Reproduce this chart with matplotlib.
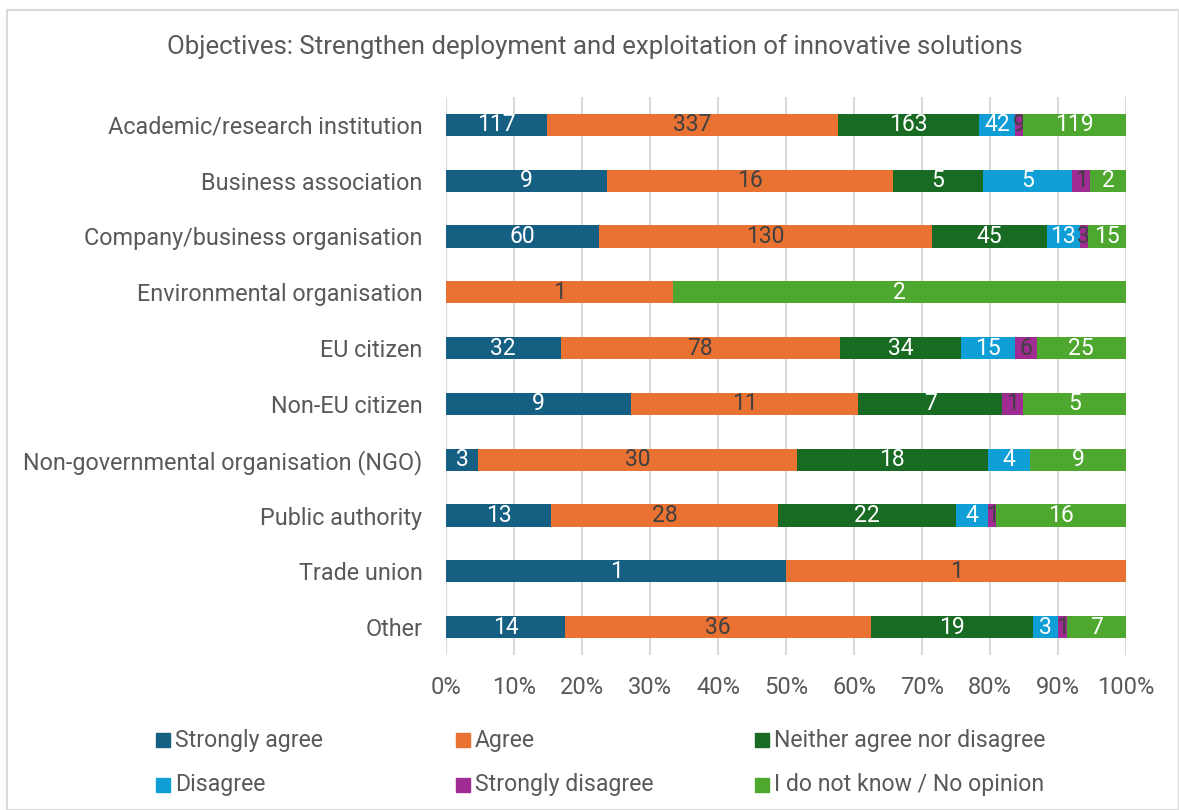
import numpy as np
import matplotlib.pyplot as plt
from matplotlib.patches import Rectangle

plt.rcParams['font.family'] = ['Roboto', 'DejaVu Sans']

categories = ["Academic/research institution", "Business association",
              "Company/business organisation", "Environmental organisation",
              "EU citizen", "Non-EU citizen", "Non-governmental organisation (NGO)",
              "Public authority", "Trade union", "Other"]
series = ["Strongly agree", "Agree", "Neither agree nor disagree",
          "Disagree", "Strongly disagree", "I do not know / No opinion"]
strongly_agree = [117, 9, 60, 0, 32, 9, 3, 13, 1, 14]
agree = [337, 16, 130, 1, 78, 11, 30, 28, 1, 36]
neither = [163, 5, 45, 0, 34, 7, 18, 22, 0, 19]
disagree = [42, 5, 13, 0, 15, 0, 4, 4, 0, 3]
strongly_disagree = [9, 1, 3, 0, 6, 1, 0, 1, 0, 1]
no_opinion = [119, 2, 15, 2, 25, 5, 9, 16, 0, 7]

colors = ["#156082", "#E97132", "#196B24", "#0F9ED5", "#A02B93", "#4EA72E"]
label_colors = ["white", "#404040", "white", "white", "#404040", "white"]
text_col = "#595959"

counts = np.array([strongly_agree, agree, neither, disagree, strongly_disagree, no_opinion], dtype=float)
totals = counts.sum(axis=0)
shares = counts / totals

W, H = 1179, 810
fig = plt.figure(figsize=(W / 100, H / 100), dpi=100)
fig.patches.append(Rectangle((7 / W, 0), 1 - 7 / W, 1 - 10 / H, transform=fig.transFigure,
                             fill=False, edgecolor="#d9d9d9", linewidth=1.5))
ax = fig.add_axes([446 / W, 1 - 655 / H, 680 / W, 558 / H])

y = np.arange(len(categories))
left = np.zeros(len(categories))
for i, name in enumerate(series):
    bars = ax.barh(y, shares[i], left=left, height=0.4, color=colors[i], label=name, zorder=3)
    labels = [f"{int(v)}" if v > 0 else "" for v in counts[i]]
    ax.bar_label(bars, labels=labels, label_type="center", color=label_colors[i], fontsize=16.5)
    left += shares[i]

ax.set_xlim(0, 1)
ax.set_ylim(len(categories) - 0.5, -0.5)
ax.set_yticks(y)
ax.set_yticklabels(categories, fontsize=16.8, color=text_col)
ax.set_xticks(np.linspace(0, 1, 11))
ax.set_xticklabels([f"{p}%" for p in range(0, 101, 10)], fontsize=17, color=text_col)
ax.tick_params(axis="y", length=0, pad=17)
ax.tick_params(axis="x", length=0, pad=15)
ax.grid(axis="x", color="#d9d9d9", linewidth=1.5, zorder=0)
for s in ax.spines.values():
    s.set_visible(False)

fig.text(595 / W, 1 - 47 / H, "Objectives: Strengthen deployment and exploitation of innovative solutions",
         ha="center", va="center", fontsize=18.6, color=text_col)

# legend laid out like the original, 3 columns x 2 rows
leg_x = [156, 456, 755]
leg_y = [740, 785]
for i, name in enumerate(series):
    xx = leg_x[i % 3]
    yy = leg_y[i // 3]
    fig.patches.append(Rectangle((xx / W, 1 - (yy + 7) / H), 14 / W, 14 / H,
                                 transform=fig.transFigure, color=colors[i]))
    fig.text((xx + 19) / W, 1 - yy / H, name, ha="left", va="center", fontsize=16.6, color=text_col)

fig.savefig("out.png", dpi=100)
